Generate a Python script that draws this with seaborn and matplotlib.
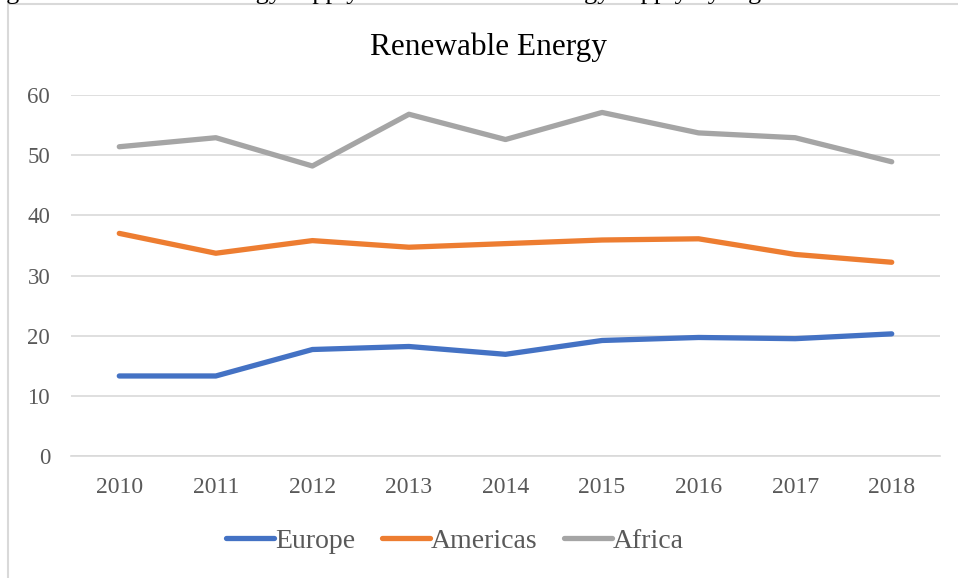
import matplotlib
matplotlib.use("Agg")
import matplotlib.pyplot as plt
import seaborn as sns
import pandas as pd
from matplotlib.patches import Rectangle

years = ["2010", "2011", "2012", "2013", "2014", "2015", "2016", "2017", "2018"]
europe = [13.3, 13.3, 17.7, 18.2, 16.9, 19.2, 19.7, 19.5, 20.3]
americas = [37.0, 33.7, 35.8, 34.7, 35.3, 35.9, 36.1, 33.5, 32.2]
africa = [51.4, 52.9, 48.2, 56.8, 52.6, 57.1, 53.7, 52.9, 48.9]
series_names = ["Europe", "Americas", "Africa"]
colors = ["#4472C4", "#ED7D31", "#A5A5A5"]
title = "Renewable Energy"
caption = "Figure 1: Renewable energy supply as share of total energy supply by region"

df = pd.DataFrame({
    "Year": years * 3,
    "Value": europe + americas + africa,
    "Region": [series_names[0]] * 9 + [series_names[1]] * 9 + [series_names[2]] * 9,
})

sns.set_style("white")
plt.rcParams["font.family"] = ["Liberation Serif", "DejaVu Serif"]

fig = plt.figure(figsize=(9.58, 5.78), dpi=100)
ax = fig.add_axes([71 / 958, (578 - 456) / 578, 869 / 958, 361 / 578])

sns.lineplot(data=df, x="Year", y="Value", hue="Region", palette=colors,
             linewidth=3.8, ax=ax, sort=False, legend=False,
             solid_capstyle="round", solid_joinstyle="round")

ax.set_xlim(-0.5, 8.5)
ax.set_ylim(0, 60)
ax.set_yticks([0, 10, 20, 30, 40, 50, 60])
ax.yaxis.grid(True, color="#D9D9D9", linewidth=1.2)
ax.set_axisbelow(True)
for s in ax.spines.values():
    s.set_visible(False)
ax.spines["bottom"].set_visible(True)
ax.spines["bottom"].set_color("#D9D9D9")
ax.spines["bottom"].set_linewidth(1.2)
ax.tick_params(axis="both", length=0, labelcolor="#595959")
ax.tick_params(axis="y", pad=15, labelsize=16.5)
ax.tick_params(axis="x", pad=15, labelsize=17)
ax.set_xlabel("")
ax.set_ylabel("")

fig.text(488 / 958, 1 - 47 / 578, title, ha="center", va="center", fontsize=22.5, color="#000000")

handles = [plt.Line2D([0], [0], color=c, linewidth=3.8, solid_capstyle="round") for c in colors]
fig.legend(handles, series_names, loc="center", bbox_to_anchor=(455 / 958, 1 - 541 / 578),
           ncol=3, frameon=False, fontsize=20, handlelength=1.72, handletextpad=0.02,
           columnspacing=0.98, labelcolor="#595959")

# outer chart border (left and top visible)
fig.patches.append(Rectangle((8 / 958, -0.1), 1.2, 1 - 4 / 578 + 0.1,
                             transform=fig.transFigure, fill=False,
                             edgecolor="#D9D9D9", linewidth=1.5))

# caption from the page above, mostly cut off
fig.text(-16 / 958, 1 + 1.5 / 578, caption, ha="left", va="baseline",
         fontsize=19, color="#000000")

fig.savefig("out.png", dpi=100, facecolor="white")
